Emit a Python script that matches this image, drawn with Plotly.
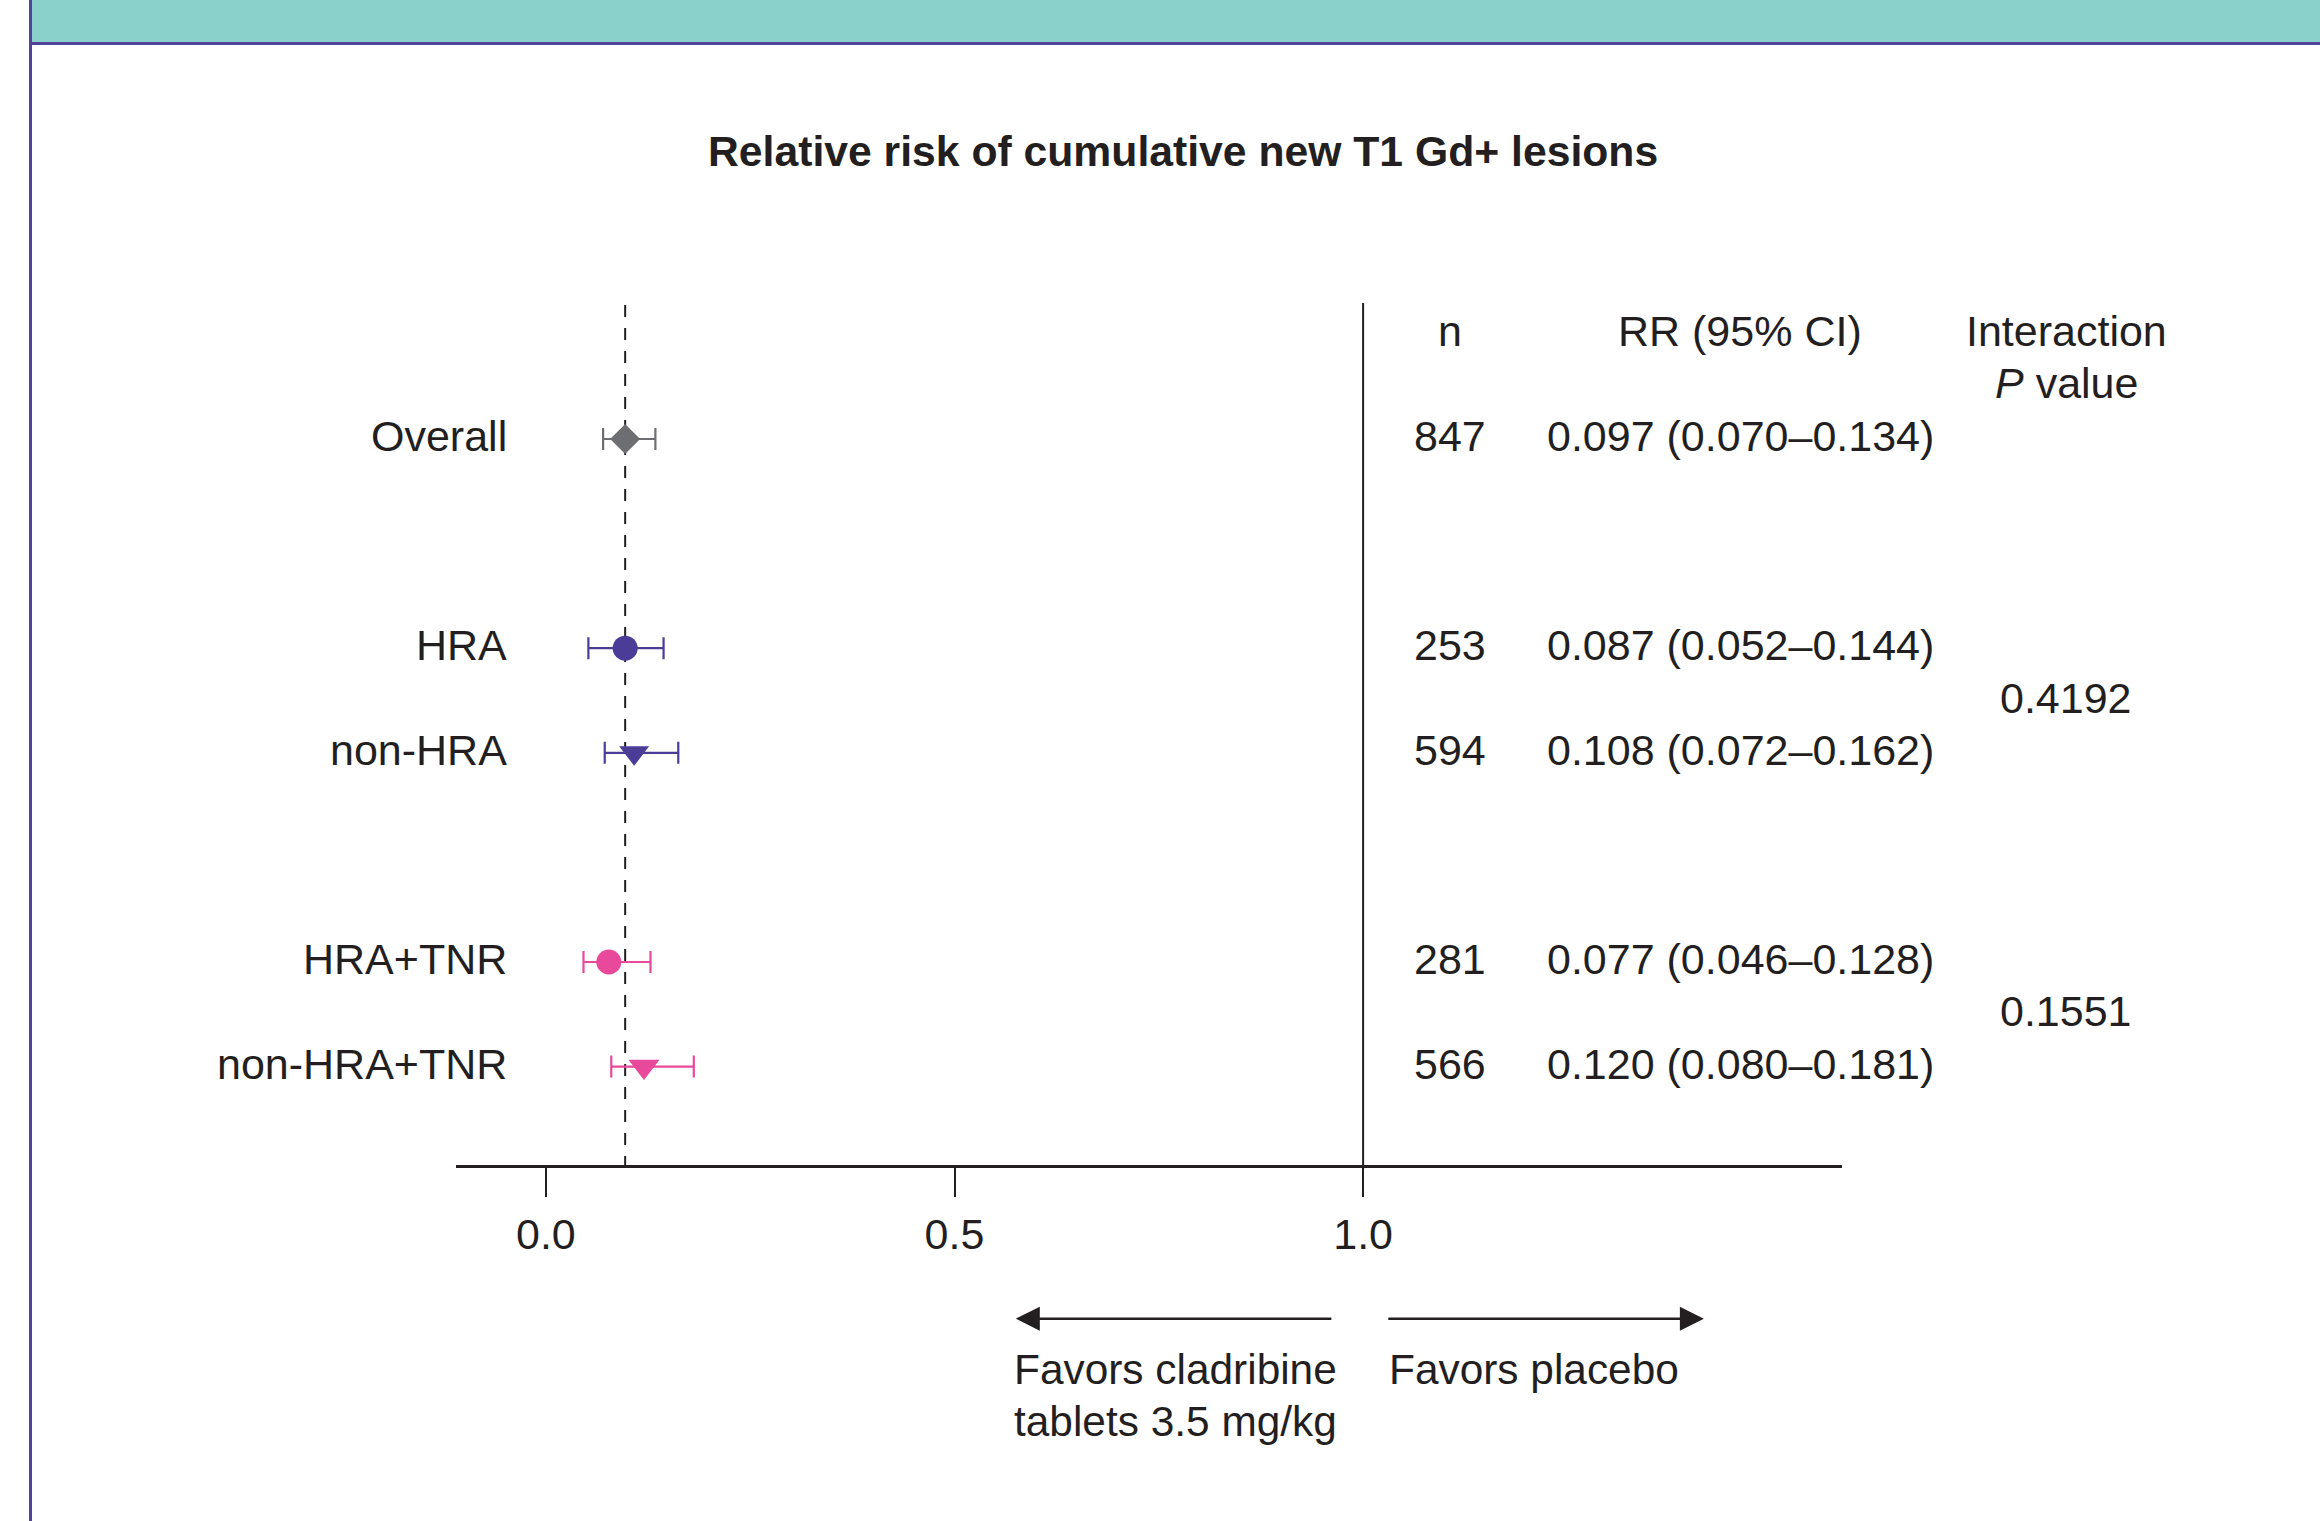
import plotly.graph_objects as go

# ---------------- data ----------------
labels = ["Overall", "HRA", "non-HRA", "HRA+TNR", "non-HRA+TNR"]
n_vals = [847, 253, 594, 281, 566]
rr = [0.097, 0.087, 0.108, 0.077, 0.120]
ci_lo = [0.070, 0.052, 0.072, 0.046, 0.080]
ci_hi = [0.134, 0.144, 0.162, 0.128, 0.181]
# marker positions as drawn in the source figure (HRA point is drawn at ~0.097)
rr_marker = [0.097, 0.097, 0.108, 0.077, 0.120]
p_values = ["0.4192", "0.1551"]          # interaction P, per subgroup pair
tick_vals = [0.0, 0.5, 1.0]

# ---------------- layout helpers ----------------
row_pos = [0, 2, 3, 5, 6]
pair_rows = [(1, 2), (3, 4)]
groups = [  # (row indices, colour, symbols, sizes)
    ([0], "#6D6E71", ["diamond"], [23]),
    ([1, 2], "#4B3D97", ["circle", "triangle-down"], [25, 26]),
    ([3, 4], "#E8499B", ["circle", "triangle-down"], [25, 27]),
]
FONT = "Liberation Sans, Arial, sans-serif"
TXT = "#231F20"
FS = 43
W, H = 2320, 1521
DY = -0.028  # small text baseline correction (rows / headers)

fig = go.Figure()

for idx, col, syms, sizes in groups:
    fig.add_trace(go.Scatter(
        x=[rr_marker[i] for i in idx],
        y=[row_pos[i] for i in idx],
        mode="markers",
        marker=dict(symbol=syms, size=sizes, color=col, opacity=1, line=dict(width=0)),
        error_x=dict(type="data", symmetric=False,
                     array=[ci_hi[i] - rr_marker[i] for i in idx],
                     arrayminus=[rr_marker[i] - ci_lo[i] for i in idx],
                     color=col, thickness=2.2, width=11),
        showlegend=False, hoverinfo="skip", cliponaxis=False,
    ))

shapes = []
# teal header band and purple frame lines
shapes.append(dict(type="rect", xref="paper", yref="paper", x0=32 / W, x1=1,
                   y0=1 - 42 / H, y1=1, fillcolor="#8AD1CC", line=dict(width=0)))
shapes.append(dict(type="line", xref="paper", yref="paper", x0=29 / W, x1=1,
                   y0=1 - 43.5 / H, y1=1 - 43.5 / H, line=dict(color="#52429C", width=3)))
shapes.append(dict(type="line", xref="paper", yref="paper", x0=30.5 / W, x1=30.5 / W,
                   y0=0, y1=1, line=dict(color="#52429C", width=3)))
# null line at RR = 1
shapes.append(dict(type="line", xref="x", yref="y", x0=1.0, x1=1.0, y0=-1.30, y1=6.98,
                   line=dict(color=TXT, width=2), layer="below"))
# dashed line at overall estimate
shapes.append(dict(type="line", xref="x", yref="y", x0=rr[0], x1=rr[0], y0=-1.28, y1=7.00,
                   line=dict(color=TXT, width=2, dash="12px,11px"), layer="below"))

ann = []
def txt(x, y, s, xanchor="center", xref="paper", yref="y", size=FS):
    ann.append(dict(x=x, y=y, xref=xref, yref=yref, text=s, showarrow=False,
                    xanchor=xanchor, yanchor="middle",
                    font=dict(family=FONT, size=size, color=TXT)))

# title
txt(0.5097, 1 - 151 / H, "<b>Relative risk of cumulative new T1 Gd+ lesions</b>",
    yref="paper", size=42.7)

# headers
col_n, col_rr, col_p = 1450 / W, 1740 / W, 2066 / W
txt(col_n, -1 + DY, "n")
txt(col_rr, -1 + DY, "RR (95% CI)")
txt(col_p, -1 + DY, "Interaction")
txt(col_p, -0.535, "<i>P</i> value")

# rows
for i, lab in enumerate(labels):
    y = row_pos[i] + DY
    txt(509 / W, y, lab, xanchor="right")
    txt(col_n, y, str(n_vals[i]))
    txt(col_rr, y, f"{rr[i]:.3f} ({ci_lo[i]:.3f}\u2013{ci_hi[i]:.3f})")
for (a, b), p in zip(pair_rows, p_values):
    txt(col_p, (row_pos[a] + row_pos[b]) / 2 + DY, p)

# direction arrows
for tip, tail in [(0.575, 0.963), (1.417, 1.029)]:
    ann.append(dict(x=tip, y=8.41, ax=tail, ay=8.41, xref="x", yref="y",
                    axref="x", ayref="y", text="", showarrow=True,
                    arrowhead=2, arrowsize=2, arrowwidth=2.4, arrowcolor=TXT,
                    standoff=0, startstandoff=0))
txt(1012 / W, 8.90, "Favors cladribine", xanchor="left", size=42.4)
txt(1012 / W, 9.39, "tablets 3.5 mg/kg", xanchor="left", size=42.4)
txt(1387 / W, 8.90, "Favors placebo", xanchor="left", size=42.4)

fig.update_layout(
    width=W, height=H,
    margin=dict(l=0, r=0, t=0, b=0),
    paper_bgcolor="white", plot_bgcolor="white",
    shapes=shapes, annotations=ann,
    xaxis=dict(domain=[456 / W, 1842 / W], range=[-0.110, 1.586],
               anchor="free", position=1 - 1166 / H,
               showline=True, linecolor=TXT, linewidth=3,
               ticks="outside", ticklen=29, tickwidth=2, tickcolor=TXT,
               tickvals=tick_vals, tickformat=".1f",
               tickfont=dict(family=FONT, size=FS, color=TXT),
               showgrid=False, zeroline=False, fixedrange=True),
    yaxis=dict(domain=[0, 1], range=[10.344, -4.197], visible=False,
               showgrid=False, zeroline=False, fixedrange=True),
    showlegend=False,
)

fig.write_html("out.html")
